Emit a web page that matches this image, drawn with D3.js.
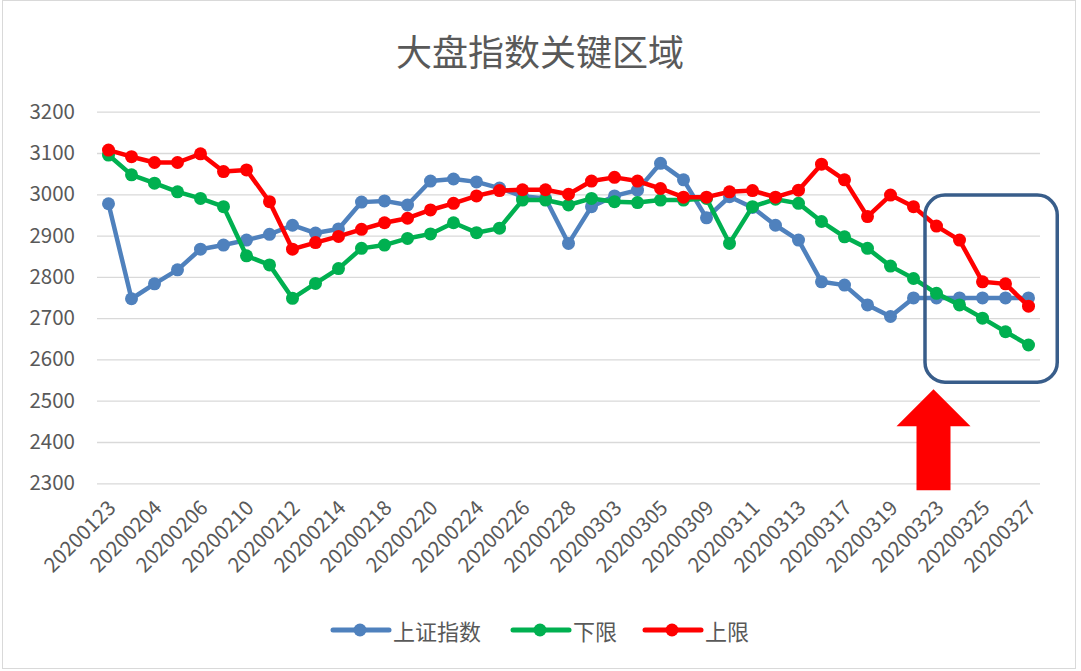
<!DOCTYPE html>
<html>
<head>
<meta charset="utf-8">
<script src="https://cdn.jsdelivr.net/npm/d3@7"></script>
<style>
  html, body { margin: 0; padding: 0; background: #fff; }
  svg { display: block; }
  text { font-family: "Noto Sans CJK SC", "Noto Sans", sans-serif; fill: #595959; }
</style>
</head>
<body>
<svg id="chart" width="1081" height="671"></svg>
<script>
const title = "大盘指数关键区域";
const categories = [
  "20200123","20200203","20200204","20200205","20200206","20200207","20200210","20200211",
  "20200212","20200213","20200214","20200217","20200218","20200219","20200220","20200221",
  "20200224","20200225","20200226","20200227","20200228","20200302","20200303","20200304",
  "20200305","20200306","20200309","20200310","20200311","20200312","20200313","20200316",
  "20200317","20200318","20200319","20200320","20200323","20200324","20200325","20200326",
  "20200327"
];
const seriesNames = ["上证指数", "下限", "上限"];
const shIndex = [
  2977, 2747, 2783, 2817, 2867, 2877, 2889, 2903, 2925, 2906,
  2916, 2981, 2984, 2974, 3032, 3037, 3030, 3015, 2995, 2990,
  2881, 2970, 2996, 3010, 3075, 3035, 2943, 2994, 2968, 2925,
  2889, 2788, 2780, 2732, 2704, 2749, 2749, 2749, 2749, 2749,
  2749
];
const lowerBound = [
  3095, 3047, 3027, 3006, 2990, 2970, 2851, 2829, 2748, 2784,
  2820, 2869, 2877, 2893, 2904, 2931, 2907, 2918, 2986, 2986,
  2974, 2990, 2982, 2980, 2986, 2986, 2990, 2881, 2970, 2988,
  2978, 2934, 2897, 2869, 2826, 2796, 2760, 2732, 2700, 2667,
  2635
];
const upperBound = [
  3107, 3091, 3077, 3077, 3098, 3055, 3059, 2982, 2867, 2883,
  2898, 2915, 2931, 2942, 2962, 2978, 2996, 3009, 3011, 3011,
  3000, 3032, 3041, 3032, 3014, 2993, 2993, 3006, 3009, 2993,
  3010, 3073, 3035, 2946, 2998, 2970, 2923, 2889, 2788, 2783,
  2729
];
const yTicks = [2300, 2400, 2500, 2600, 2700, 2800, 2900, 3000, 3100, 3200];
const colors = ["#4F81BD", "#00B050", "#FF0000"];

const svg = d3.select("#chart");
const W = 1081, H = 671;

svg.append("rect").attr("x", 0).attr("y", 0).attr("width", W).attr("height", H).attr("fill", "#fff");
svg.append("rect").attr("x", 2.5).attr("y", 0.5).attr("width", 1073).attr("height", 668)
  .attr("fill", "none").attr("stroke", "#D9D9D9").attr("stroke-width", 1);

const x = d3.scalePoint().domain(categories).range([97, 1040]).padding(0.5);
const y = d3.scaleLinear().domain([2300, 3200]).range([483.3, 111.7]);
const step = x.step();

// title
svg.append("text").attr("x", 540).attr("y", 50).attr("text-anchor", "middle")
  .attr("dominant-baseline", "central").style("font-size", "36px").text(title);

// gridlines + y labels
const yAxis = d3.axisLeft(y).tickValues(yTicks).tickFormat(d3.format("d"))
  .tickSize(-(1040 - 97)).tickPadding(22);
const gy = svg.append("g").attr("transform", "translate(97,0)").call(yAxis);
gy.select(".domain").remove();
gy.selectAll(".tick line").attr("stroke", "#D9D9D9").attr("stroke-width", 1.3);
gy.selectAll(".tick text").style("font-size", "20.5px").attr("fill", "#595959")
  .attr("font-family", null);

// x axis labels
const xAxis = d3.axisBottom(x).tickValues(categories.filter((d, i) => i % 2 === 0)).tickSize(0).tickPadding(0);
const gx = svg.append("g").attr("transform", "translate(0,483.3)").call(xAxis);
gx.select(".domain").remove();
gx.selectAll(".tick text")
  .attr("font-family", null)
  .style("font-size", "20.5px").attr("fill", "#595959")
  .attr("text-anchor", "end")
  .attr("dy", null).attr("y", 0)
  .attr("transform", "translate(8,26) rotate(-45)");

// series
const seriesData = [shIndex, lowerBound, upperBound];
const line = d3.line().x((d, i) => x(categories[i])).y(d => y(d));
seriesData.forEach((vals, si) => {
  const g = svg.append("g");
  g.append("path").datum(vals).attr("d", line).attr("fill", "none")
    .attr("stroke", colors[si]).attr("stroke-width", 4.5).attr("stroke-linejoin", "round");
  g.selectAll("circle").data(vals).join("circle")
    .attr("cx", (d, i) => x(categories[i])).attr("cy", d => y(d)).attr("r", 6.5)
    .attr("fill", colors[si]);
});

// annotation: rounded box and arrow
const bx0 = x(categories[35]) + step * 0.5;
const bx1 = x(categories[40]) + step * 1.25;
svg.append("rect").attr("x", bx0).attr("y", y(2998)).attr("width", bx1 - bx0)
  .attr("height", y(2545) - y(2998)).attr("rx", 20).attr("ry", 20)
  .attr("fill", "none").attr("stroke", "#385D8A").attr("stroke-width", 3.5);

const ax = x(categories[36]) - 3;
const arrow = [
  [ax, y(2528)], [ax + 37, y(2438)], [ax + 17, y(2438)], [ax + 17, y(2283)],
  [ax - 17, y(2283)], [ax - 17, y(2438)], [ax - 37, y(2438)]
];
svg.append("path").attr("d", d3.line()(arrow) + "Z").attr("fill", "#FF0000");

// legend
const legendX = [333, 513, 645];
const legend = svg.append("g");
seriesNames.forEach((name, i) => {
  const lx = legendX[i];
  legend.append("line").attr("x1", lx).attr("x2", lx + 56).attr("y1", 630).attr("y2", 630)
    .attr("stroke", colors[i]).attr("stroke-width", 5).attr("stroke-linecap", "round");
  legend.append("circle").attr("cx", lx + 27).attr("cy", 630).attr("r", 6.5).attr("fill", colors[i]);
  legend.append("text").attr("x", lx + 60).attr("y", 630).attr("dominant-baseline", "central")
    .style("font-size", "22px").text(name);
});
</script>
</body>
</html>
